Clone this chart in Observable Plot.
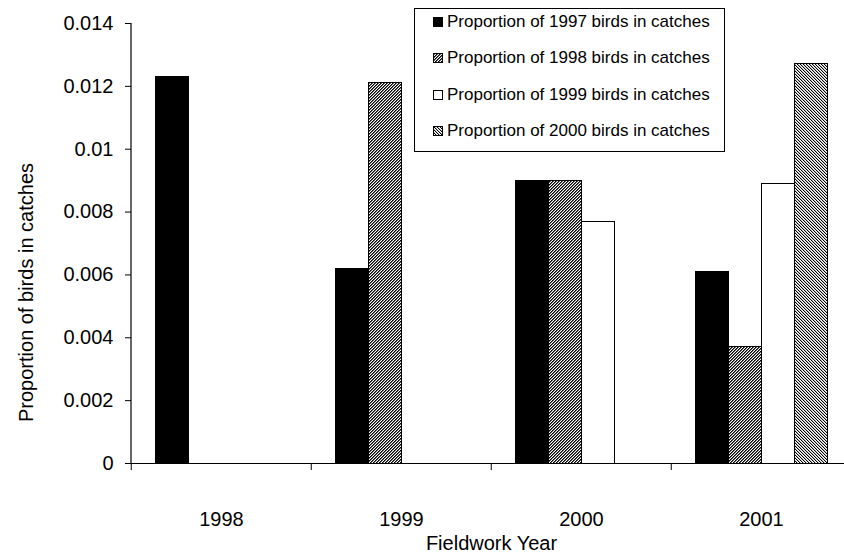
<!DOCTYPE html>
<html>
<head>
<meta charset="utf-8">
<script src="https://cdn.jsdelivr.net/npm/d3@7"></script>
<script src="https://cdn.jsdelivr.net/npm/@observablehq/plot@0.6"></script>
<style>
  body { margin: 0; background: #fff; }
  #wrap { position: relative; width: 844px; height: 554px; overflow: hidden; background: #fff;
          font-family: "Liberation Sans", Arial, sans-serif; }
  #legend { position: absolute; left: 414px; top: 8px; width: 309px; height: 142px;
            border: 1px solid #000; background: #fff; box-sizing: content-box; }
  .row { position: absolute; left: 17px; height: 20px; display: flex; align-items: center;
         font-size: 17px; color: #000; white-space: nowrap; }
  .row svg { margin-right: 3px; }
</style>
</head>
<body>
<div id="wrap"></div>
<script>
// ---- data ----
const fieldworkYears = ["1998", "1999", "2000", "2001"];
const cohorts = ["1997", "1998", "1999", "2000"];
const seriesLabels = [
  "Proportion of 1997 birds in catches",
  "Proportion of 1998 birds in catches",
  "Proportion of 1999 birds in catches",
  "Proportion of 2000 birds in catches"
];
const prop1997 = [0.0123, 0.0062, 0.0090, 0.0061];
const prop1998 = [null, 0.0121, 0.0090, 0.0037];
const prop1999 = [null, null, 0.0077, 0.0089];
const prop2000 = [null, null, null, 0.0127];
const yTicks = [0, 0.002, 0.004, 0.006, 0.008, 0.01, 0.012, 0.014];
const yTickLabels = ["0", "0.002", "0.004", "0.006", "0.008", "0.01", "0.012", "0.014"];
const yTitle = "Proportion of birds in catches";
const xTitle = "Fieldwork Year";

const seriesValues = [prop1997, prop1998, prop1999, prop2000];
const fills = ["#000", "url(#hatchA)", "#fff", "url(#hatchB)"];

const data = [];
fieldworkYears.forEach((fy, i) => {
  cohorts.forEach((c, j) => {
    const v = seriesValues[j][i];
    if (v != null) data.push({field: fy, cohort: c, value: v});
  });
});

const W = 844, H = 554;
const mL = 130, mR = -8;
const step = (W - mL - mR) / fieldworkYears.length;

const chart = Plot.plot({
  width: W,
  height: H,
  marginLeft: mL,
  marginRight: mR,
  marginTop: 23,
  marginBottom: 91,
  style: {fontFamily: "'Liberation Sans', Arial, sans-serif", fontSize: "20px", color: "#000", background: "#fff"},
  fx: {domain: fieldworkYears, padding: 0},
  x: {domain: cohorts, paddingInner: 0, paddingOuter: 0.7, axis: null},
  y: {domain: [0, 0.014]},
  color: {domain: cohorts, range: fills},
  marks: [
    Plot.barY(data, {fx: "field", x: "cohort", y: "value", fill: "cohort", stroke: "#000", strokeWidth: 1, shapeRendering: "crispEdges"}),
    Plot.ruleY([0], {stroke: "#000", strokeWidth: 1.2}),
    Plot.axisY({
      ticks: yTicks, tickFormat: (d) => yTickLabels[yTicks.indexOf(d)],
      tickSize: 6, tickPadding: 12, fontSize: 20, label: null
    }),
    Plot.text([yTitle], {
      facet: "super", frameAnchor: "left", rotate: -90, dx: -105, dy: 49,
      fontSize: 20, textAnchor: "middle", fill: "#000"
    }),
    Plot.axisFx({anchor: "bottom", tickSize: 7, text: null, dx: -step / 2, label: null}),
    Plot.axisFx({
      anchor: "bottom", tickSize: 0, tickPadding: 48, fontSize: 20,
      label: xTitle, labelAnchor: "center", labelOffset: 86, labelArrow: "none"
    })
  ]
});

// y axis line, positioned with the chart's own scales
const yS = chart.scale("y");
const fxS = chart.scale("fx");
d3.select(chart).append("line")
  .attr("x1", fxS.apply(fieldworkYears[0])).attr("x2", fxS.apply(fieldworkYears[0]))
  .attr("y1", yS.apply(yTicks[0])).attr("y2", yS.apply(yTicks[yTicks.length - 1]))
  .attr("stroke", "#000").attr("stroke-width", 1.2);

// pattern definitions (pixel hatching)
const defs = d3.select(chart).insert("defs", ":first-child");
function hatch(id, period, color) {
  const p = defs.append("pattern").attr("id", id).attr("patternUnits", "userSpaceOnUse")
    .attr("width", period).attr("height", period);
  p.append("rect").attr("width", period).attr("height", period).attr("fill", "#fff");
  for (let y = 0; y < period; y++) for (let x = 0; x < period; x++) {
    const c = color(x, y);
    if (c) p.append("rect").attr("x", x).attr("y", y).attr("width", 1).attr("height", 1).attr("fill", c);
  }
}
// 1998 birds: fine "/" diagonal
hatch("hatchA", 3, (x, y) => ({0: "#000", 1: "#666"})[(x + y) % 3]);
// 2000 birds: fine "\" diagonal, lighter
hatch("hatchB", 3, (x, y) => ({0: "#000", 1: "#bbb"})[((x - y) % 3 + 3) % 3]);

const wrap = document.getElementById("wrap");
wrap.appendChild(chart);

// legend
const legend = document.createElement("div");
legend.id = "legend";
const rowTops = [3, 39, 76, 112];
seriesLabels.forEach((lab, j) => {
  const row = document.createElement("div");
  row.className = "row";
  row.style.top = rowTops[j] + "px";
  row.innerHTML = `<svg width="12" height="12"><rect x="1.5" y="1.5" width="9" height="9" fill="${fills[j]}" stroke="#000" stroke-width="1"/></svg><span>${lab}</span>`;
  legend.appendChild(row);
});
wrap.appendChild(legend);
</script>
</body>
</html>
